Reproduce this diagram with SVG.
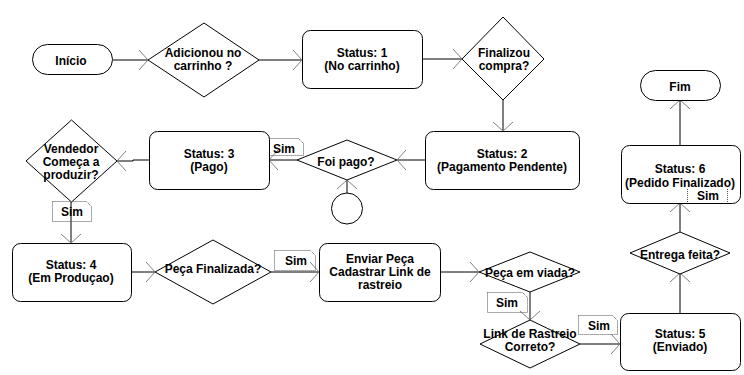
<svg xmlns="http://www.w3.org/2000/svg" width="744" height="375" viewBox="0 0 744 375">
  <style>
    .shape { fill: #ffffff; stroke: #000000; stroke-width: 1; }
    .lbl { font-family: "Liberation Sans", Arial, sans-serif; font-size: 12px; font-weight: bold; fill: #000000; text-anchor: middle; }
    .edge { fill: none; stroke: #000000; stroke-width: 1; marker-end: url(#arrow); }
    .note { fill: none; stroke: #555555; stroke-width: 1; stroke-dasharray: 1 1; }
  </style>
  <defs>
    <marker id="arrow" markerUnits="userSpaceOnUse" markerWidth="24" markerHeight="24" refX="12" refY="12" orient="auto" overflow="visible">
      <path d="M3,2 L12,12 L3,22" fill="none" stroke="#808080" stroke-width="1"/>
    </marker>
  </defs>
  <rect width="744" height="375" fill="#ffffff"/>

  <!-- connectors -->
  <g id="connectors">
    <path class="edge" d="M113,60 L148,60"/>
    <path class="edge" d="M259,60 L302,60"/>
    <path class="edge" d="M422,59 L462,59"/>
    <path class="edge" d="M503,100 L503,131"/>
    <path class="edge" d="M425,160 L397,160"/>
    <path class="edge" d="M297,160 L269,160"/>
    <path class="edge" d="M347,193 L347,180"/>
    <path class="edge" d="M149,160 L133,160 L133,161 L117,161"/>
    <path class="edge" d="M71,202 L71,243"/>
    <path class="edge" d="M131,272 L155,272"/>
    <path class="edge" d="M271,272 L319,272"/>
    <path class="edge" d="M440,272 L479,272"/>
    <path class="edge" d="M530,292 L530,320"/>
    <path class="edge" d="M580,344 L620,344"/>
    <path class="edge" d="M680,313 L680,273"/>
    <path class="edge" d="M680,232 L680,203"/>
    <path class="edge" d="M680,145 L680,100"/>
  </g>

  <g id="inicio">
    <rect class="shape" x="32.5" y="44.5" width="80" height="30" rx="15" ry="15"/>
    <text class="lbl" x="71" y="65">Início</text>
  </g>

  <g id="adicionou">
    <polygon class="shape" points="204,23 259,60 204,97 148,60"/>
    <text class="lbl" x="203" y="57">Adicionou no</text>
    <text class="lbl" x="203" y="70">carrinho ?</text>
  </g>

  <g id="status1">
    <rect class="shape" x="302.5" y="30.5" width="120" height="58" rx="8" ry="8"/>
    <text class="lbl" x="362" y="57">Status: 1</text>
    <text class="lbl" x="362" y="70">(No carrinho)</text>
  </g>

  <g id="finalizou">
    <polygon class="shape" points="503,17 544,59 503,100 462,59"/>
    <text class="lbl" x="504" y="57">Finalizou</text>
    <text class="lbl" x="504" y="70">compra?</text>
  </g>

  <g id="status2">
    <rect class="shape" x="425.5" y="131.5" width="154" height="58" rx="8" ry="8"/>
    <text class="lbl" x="502" y="158">Status: 2</text>
    <text class="lbl" x="502" y="171">(Pagamento Pendente)</text>
  </g>

  <g id="foi-pago">
    <polygon class="shape" points="347,140 397,160 347,180 297,160"/>
    <text class="lbl" x="346" y="166">Foi pago?</text>
  </g>

  <g id="circulo">
    <circle class="shape" cx="347" cy="208.5" r="15.5"/>
  </g>

  <g id="sim-pago">
    <path class="note" d="M263.5,138.5 L298.5,138.5 L303.5,143.5 L303.5,155.5 L263.5,155.5 Z"/>
    <text class="lbl" x="284" y="153">Sim</text>
  </g>

  <g id="status3">
    <rect class="shape" x="149.5" y="131.5" width="120" height="58" rx="8" ry="8"/>
    <text class="lbl" x="209" y="158">Status: 3</text>
    <text class="lbl" x="209" y="171">(Pago)</text>
  </g>

  <g id="vendedor">
    <polygon class="shape" points="71.5,120 117,161 71.5,202 26,161"/>
    <text class="lbl" x="71" y="153">Vendedor</text>
    <text class="lbl" x="71" y="166">Começa a</text>
    <text class="lbl" x="71" y="179">produzir?</text>
  </g>

  <g id="sim-vendedor">
    <path class="note" d="M52.5,201.5 L86.5,201.5 L91.5,206.5 L91.5,221.5 L52.5,221.5 Z"/>
    <text class="lbl" x="72" y="216">Sim</text>
  </g>

  <g id="status4">
    <rect class="shape" x="12.5" y="243.5" width="119" height="58" rx="8" ry="8"/>
    <text class="lbl" x="71" y="269">Status: 4</text>
    <text class="lbl" x="71" y="282">(Em Produçao)</text>
  </g>

  <g id="peca-finalizada">
    <polygon class="shape" points="213,240 271,272 213,304 155,272"/>
    <text class="lbl" x="213" y="273">Peça Finalizada?</text>
  </g>

  <g id="sim-finalizada">
    <path class="note" d="M274.5,250.5 L310.5,250.5 L315.5,255.5 L315.5,270.5 L274.5,270.5 Z"/>
    <text class="lbl" x="296" y="265">Sim</text>
  </g>

  <g id="enviar">
    <rect class="shape" x="319.5" y="243.5" width="121" height="58" rx="8" ry="8"/>
    <text class="lbl" x="380" y="263">Enviar Peça</text>
    <text class="lbl" x="380" y="276">Cadastrar Link de</text>
    <text class="lbl" x="380" y="289">rastreio</text>
  </g>

  <g id="peca-enviada">
    <polygon class="shape" points="530,252 580,272 530,292 479,272"/>
    <text class="lbl" x="530" y="277">Peça em viada?</text>
  </g>

  <g id="sim-enviada">
    <path class="note" d="M487.5,292.5 L522.5,292.5 L527.5,297.5 L527.5,312.5 L487.5,312.5 Z"/>
    <text class="lbl" x="507" y="307">Sim</text>
  </g>

  <g id="link-rastreio">
    <polygon class="shape" points="530,320 580,344 530,368 480,344"/>
    <text class="lbl" x="530" y="338">Link de Rastreio</text>
    <text class="lbl" x="530" y="351">Correto?</text>
  </g>

  <g id="sim-link">
    <path class="note" d="M578.5,315.5 L612.5,315.5 L617.5,320.5 L617.5,334.5 L578.5,334.5 Z"/>
    <text class="lbl" x="599" y="330">Sim</text>
  </g>

  <g id="status5">
    <rect class="shape" x="620.5" y="313.5" width="120" height="57" rx="8" ry="8"/>
    <text class="lbl" x="680" y="338">Status: 5</text>
    <text class="lbl" x="680" y="351">(Enviado)</text>
  </g>

  <g id="entrega">
    <polygon class="shape" points="680,232 730,253 680,274 630,253"/>
    <text class="lbl" x="680" y="259">Entrega feita?</text>
  </g>

  <g id="status6">
    <rect class="shape" x="621.5" y="145.5" width="119" height="58" rx="8" ry="8"/>
    <text class="lbl" x="680" y="173">Status: 6</text>
    <text class="lbl" x="680" y="187">(Pedido Finalizado)</text>
    <path class="note" d="M687.5,189 L687.5,203 M727.5,189 L727.5,203"/>
    <text class="lbl" x="708" y="200">Sim</text>
  </g>

  <g id="fim">
    <rect class="shape" x="640.5" y="70.5" width="80" height="30" rx="15" ry="15"/>
    <text class="lbl" x="680" y="91">Fim</text>
  </g>
</svg>
